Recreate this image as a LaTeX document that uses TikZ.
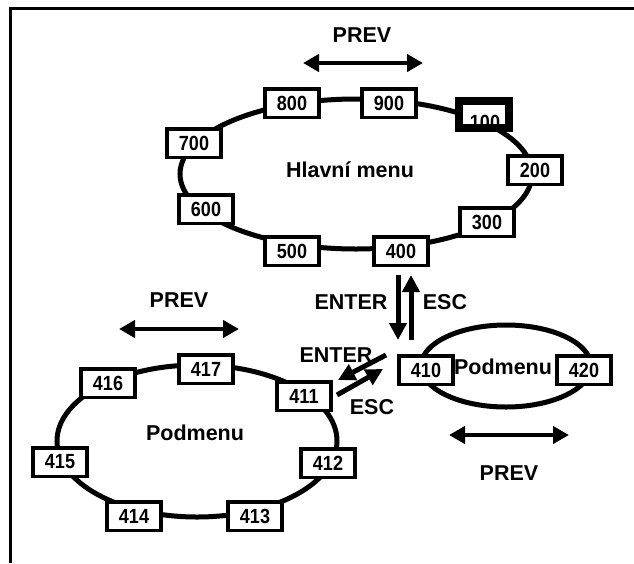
\documentclass[tikz,border=0pt]{standalone}
\usepackage{fontspec}
\setmainfont{Liberation Sans}
\newfontfamily\boxfont{Liberation Sans}[FakeStretch=0.88]
\usetikzlibrary{arrows.meta,positioning}
\tikzstyle{box} = [draw, fill=white, rectangle, line width=3.5pt, outer sep=0pt, inner sep=0pt, minimum width=54pt, minimum height=28.5pt, font=\boxfont\fontsize{20.5}{20.5}\selectfont\bfseries]
\tikzstyle{txt} = [font=\fontsize{21.5}{21.5}\selectfont\bfseries]
\tikzstyle{ring} = [line width=5pt]
\tikzstyle{goarrow} = [line width=5pt, -{Triangle[length=17pt,width=17pt]}]
\tikzstyle{prevarrow} = [line width=4.5pt, {Triangle[length=16pt,width=17pt]}-{Triangle[length=16pt,width=17pt]}]

\begin{document}
\begin{tikzpicture}[x=1pt, y=-1pt]
    \useasboundingbox (0,0) rectangle (634,563);
    \draw[line width=3pt] (634,8) -- (10,8) -- (10,563);

    % Hlavni menu
    \draw[ring] (356,174) ellipse [x radius=176pt, y radius=75pt];
    \node [txt] (hm) at (350,170) {Hlavní menu};
    \node [box] (m800) at (292,103) {800};
    \node [box] (m900) at (389,103) {900};
    \node [box, line width=8pt, minimum width=50pt, minimum height=27pt] (m100) at (484,114.5) {};
    \node [font=\boxfont\fontsize{20.5}{20.5}\selectfont\bfseries] (t100) at (485,122) {100};
    \draw[line width=8pt] (m100.south west) rectangle (m100.north east);
    \node [box] (m700) at (194,143) {700};
    \node [box] (m200) at (535,170) {200};
    \node [box] (m600) at (206,209) {600};
    \node [box] (m300) at (487,222) {300};
    \node [box] (m500) at (292,251) {500};
    \node [box] (m400) at (401,251) {400};

    \node [txt] (prev1) at (362,35) {PREV};
    \coordinate (p1a) at (303,63);
    \coordinate (p1b) at (423,63);
    \draw[prevarrow] (p1a) -- (p1b);

    % ENTER / ESC mezi 400 a 410
    \coordinate (dn1) at (398,275);
    \coordinate (dn2) at (398,340);
    \coordinate (up1) at (411,340);
    \coordinate (up2) at (411,275);
    \draw[goarrow] (dn1) -- (dn2);
    \draw[goarrow] (up1) -- (up2);
    \node [txt] (enter1) at (351,302) {ENTER};
    \node [txt] (esc1) at (445,302) {ESC};

    % Podmenu 410/420
    \draw[ring] (506,366) ellipse [x radius=85pt, y radius=41pt];
    \node [txt] (pm2) at (503,367) {Podmenu};
    \node [box] (s410) at (426,370) {410};
    \node [box] (s420) at (584,370) {420};
    \coordinate (p3a) at (449,435);
    \coordinate (p3b) at (569,435);
    \draw[prevarrow] (p3a) -- (p3b);
    \node [txt] (prev3) at (509,473) {PREV};

    % ENTER / ESC mezi 410 a 411
    \coordinate (en1) at (386,355);
    \coordinate (en2) at (338,380);
    \coordinate (es1) at (337,395);
    \coordinate (es2) at (383,369);
    \node [txt] (enter2) at (336,355) {ENTER};
    \draw[goarrow] (en1) -- (en2);
    \draw[goarrow] (es1) -- (es2);
    \node [txt] (esc2) at (372,407) {ESC};

    % Podmenu 411-417
    \node [txt] (prev2) at (179,300) {PREV};
    \coordinate (p2a) at (119,329);
    \coordinate (p2b) at (239,329);
    \draw[prevarrow] (p2a) -- (p2b);
    \draw[ring] (197,441) ellipse [x radius=140pt, y radius=76pt];
    \node [txt] (pm1) at (195,433) {Podmenu};
    \node [box] (s417) at (206,369) {417};
    \node [box] (s416) at (108,383) {416};
    \node [box] (s411) at (304,396) {411};
    \node [box] (s415) at (60,462) {415};
    \node [box] (s412) at (328,463) {412};
    \node [box] (s414) at (134,516) {414};
    \node [box] (s413) at (255,516) {413};
\end{tikzpicture}
\end{document}
